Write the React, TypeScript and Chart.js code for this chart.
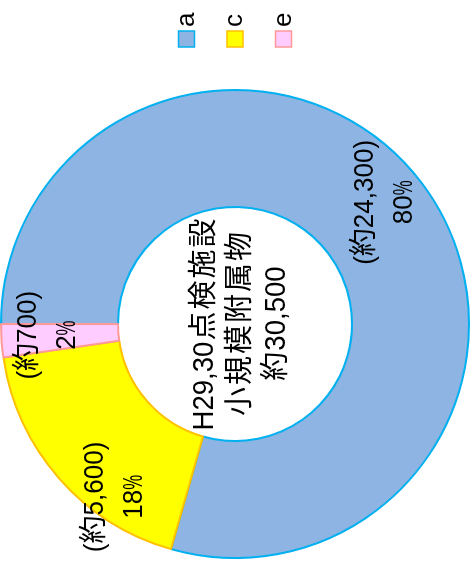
import { useEffect, useRef } from 'react';
import { Chart, registerables } from 'chart.js';

Chart.register(...registerables);

// ---- data ----
const categories = ['a', 'c', 'e'];
const values = [24300, 5600, 700];
const percentLabels = ['80%', '18%', '2%'];
const centerLines = ['H29,30点検施設', '小規模附属物', '約30,500'];
const fillColors = ['#8DB4E2', '#FFFF00', '#FFCCFF'];
const borderColors = ['#00B0F0', '#FFC000', '#FF9999'];

// ---- styling / placement ----
const FONT = "'Liberation Sans', 'Noto Sans CJK JP', sans-serif";
const labelAngleOffset = [-2, -14, 0.7]; // degrees from slice middle
const labelRadiusFactor = [0.825, 0.9, 0.8]; // fraction of outer radius
const W = 583;
const H = 476;

function isCJK(ch: string) {
  return ch.charCodeAt(0) > 0x2e80;
}

// draws text centred at (cx, cy) with narrower latin glyphs
function drawMixed(
  ctx: CanvasRenderingContext2D,
  text: string,
  cx: number,
  cy: number,
  latinScale: number,
  pctScale: number,
  cjkSpacing: number
) {
  const chars = Array.from(text);
  const parts = chars.map((ch) => {
    const s = isCJK(ch) ? 1 : ch === '%' ? pctScale : latinScale;
    const w = ctx.measureText(ch).width * s + (isCJK(ch) ? cjkSpacing : 0);
    return { ch, s, w };
  });
  const total = parts.reduce((a, p) => a + p.w, 0);
  let x = cx - total / 2;
  ctx.textAlign = 'left';
  ctx.textBaseline = 'middle';
  parts.forEach((p) => {
    ctx.save();
    ctx.translate(x + (isCJK(p.ch) ? cjkSpacing / 2 : 0), cy);
    ctx.scale(p.s, 1);
    ctx.fillText(p.ch, 0, 0);
    ctx.restore();
    x += p.w;
  });
}

const overlayPlugin = {
  id: 'overlay',
  afterDraw(chart: any) {
    const ctx = chart.ctx;
    const meta = chart.getDatasetMeta(0);
    const area = chart.chartArea;
    ctx.save();
    ctx.fillStyle = '#000';

    // slice labels
    ctx.font = `28px ${FONT}`;
    meta.data.forEach((arc: any, i: number) => {
      const p = arc.getProps(['x', 'y', 'startAngle', 'endAngle', 'outerRadius'], true);
      const mid = (p.startAngle + p.endAngle) / 2 + (labelAngleOffset[i] * Math.PI) / 180;
      const r = p.outerRadius * labelRadiusFactor[i];
      const cx = p.x + Math.cos(mid) * r;
      const cy = p.y + Math.sin(mid) * r;
      drawMixed(ctx, `(約${values[i].toLocaleString('en-US')})`, cx, cy - 19.5, 0.93, 0.6, 0);
      drawMixed(ctx, percentLabels[i], cx, cy + 19.5, 0.93, 0.6, 0);
    });

    // center text
    if (meta.data.length) {
      const p = meta.data[0].getProps(['x', 'y'], true);
      ctx.font = `29px ${FONT}`;
      const lh = 36;
      centerLines.forEach((t, k) => {
        drawMixed(ctx, t, p.x, p.y + 6 + (k - (centerLines.length - 1) / 2) * lh, 0.95, 0.6, 2);
      });
    }

    // legend
    const boxX = area.right + 18;
    const midY = (area.top + area.bottom) / 2;
    const step = 48.5;
    ctx.textAlign = 'left';
    ctx.textBaseline = 'middle';
    ctx.font = `26px ${FONT}`;
    categories.forEach((c, i) => {
      const y = midY + (i - (categories.length - 1) / 2) * step;
      ctx.fillStyle = fillColors[i];
      ctx.fillRect(boxX, y - 8, 16, 16);
      ctx.strokeStyle = borderColors[i];
      ctx.lineWidth = 1.5;
      ctx.strokeRect(boxX, y - 8, 16, 16);
      ctx.fillStyle = '#000';
      ctx.fillText(c, boxX + 20, y);
    });
    ctx.restore();
  },
};

export default function App() {
  const ref = useRef<HTMLCanvasElement | null>(null);
  useEffect(() => {
    if (!ref.current) return;
    const chart = new Chart(ref.current, {
      type: 'doughnut',
      data: {
        labels: categories,
        datasets: [
          {
            data: values,
            backgroundColor: fillColors,
            borderColor: borderColors,
            borderWidth: 2,
            hoverOffset: 0,
            offset: 0,
          },
        ],
      },
      options: {
        responsive: false,
        animation: false,
        cutout: '50%',
        layout: { padding: { top: 0, left: 0, right: 65, bottom: 6 } },
        plugins: {
          legend: { display: false },
          tooltip: { enabled: false },
        },
      },
      plugins: [overlayPlugin],
    });
    return () => chart.destroy();
  }, []);

  return (
    <div
      style={{
        position: 'absolute',
        left: 0,
        top: 0,
        width: W,
        height: H,
        transformOrigin: '0 0',
        transform: `translate(0px, ${W}px) rotate(-90deg)`,
        background: '#fff',
      }}
    >
      <canvas ref={ref} width={W} height={H} style={{ display: 'block' }} />
    </div>
  );
}
